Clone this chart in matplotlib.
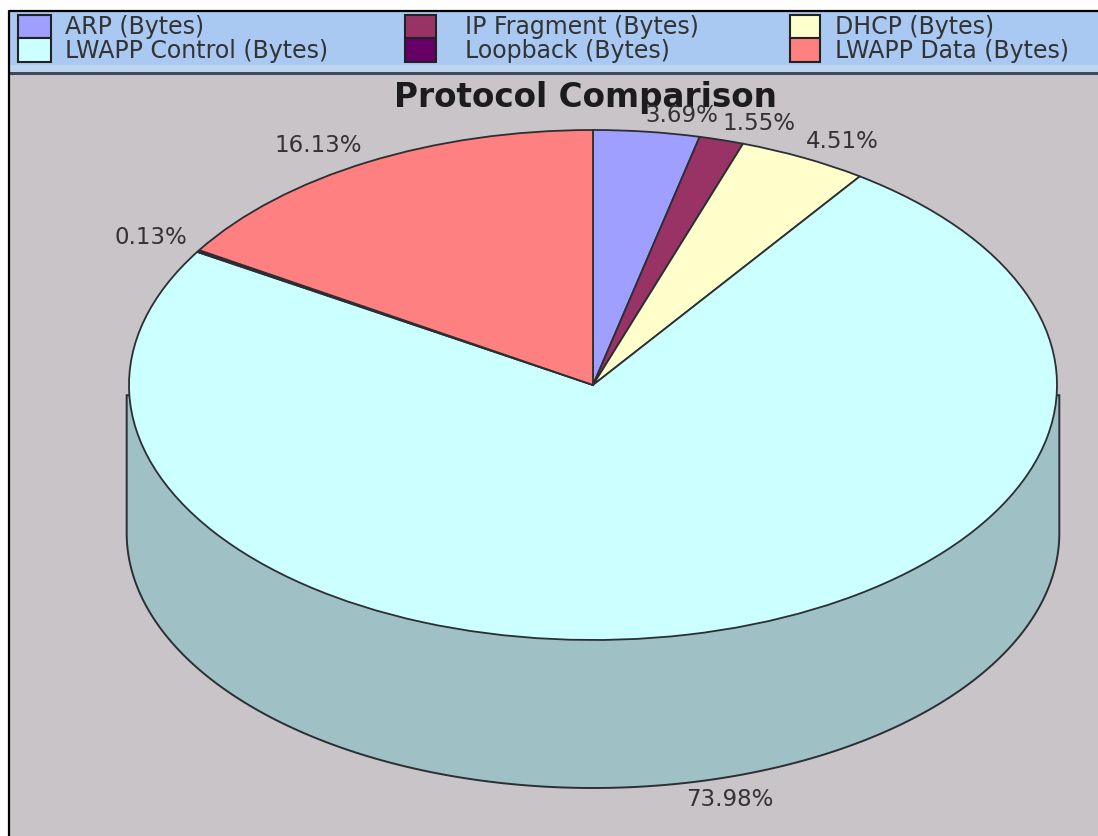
import numpy as np
import matplotlib
matplotlib.use("Agg")
import matplotlib.pyplot as plt
from matplotlib.patches import Rectangle

# --- data ---
protocols = ["ARP (Bytes)", "IP Fragment (Bytes)", "DHCP (Bytes)",
             "LWAPP Control (Bytes)", "Loopback (Bytes)", "LWAPP Data (Bytes)"]
percents = [3.69, 1.55, 4.51, 73.98, 0.13, 16.13]
colors = ["#9f9fff", "#993366", "#ffffcc", "#ccffff", "#660066", "#ff8080"]
title = "Protocol Comparison"

# pixel layout of the picture
W, H = 1098, 836
cx, cy, rx, ry = 593, 385, 464, 255
depth = 148
label_pos = [(682, 115), (759, 123), (842, 141), (730, 799), (151, 238), (318, 145)]
legend_rows = [(15, 38), (38, 62)]
legend_text_y = [27, 51]
legend_cols = [(18, 51, 65), (405, 436, 465), (790, 820, 835)]
legend_order = [(0, 0), (1, 0), (2, 0), (0, 1), (1, 1), (2, 1)]
edge = "#2b2f33"
ink = "#333333"

plt.rcParams["font.family"] = ["DejaVu Sans"]

fig = plt.figure(figsize=(W / 100, H / 100), dpi=100, facecolor="white")

# background, legend band and frame, in pixel coordinates
ax_bg = fig.add_axes([0, 0, 1, 1])
ax_bg.set_xlim(0, W)
ax_bg.set_ylim(H, 0)
ax_bg.axis("off")
ax_bg.add_patch(Rectangle((9, 11), W, H, fc="#c8c4c8", ec="none"))
ax_bg.add_patch(Rectangle((9, 11), W, 61, fc="#a9c9f2", ec="none"))
ax_bg.add_patch(Rectangle((9, 65), W, 7, fc="#bcd4ee", ec="none"))
ax_bg.add_patch(Rectangle((9, 72), W, 3, fc="#3f4a58", ec="none"))
ax_bg.plot([8.5, 8.5, W], [H, 10.5, 10.5], color="black", lw=1.6)

# legend swatches and names
for name, col, (c, r) in zip(protocols, colors, legend_order):
    x0, x1, xt = legend_cols[c]
    y0, y1 = legend_rows[r]
    ax_bg.add_patch(Rectangle((x0, y0), x1 - x0, y1 - y0, fc=col, ec="#222222", lw=1.5))
    ax_bg.text(xt, legend_text_y[r], name, fontsize=17, va="center", ha="left", color=ink)

# pie axes sits exactly on the top ellipse
ax = fig.add_axes([(cx - rx) / W, 1 - (cy + ry) / H, 2 * rx / W, 2 * ry / H])
ax.patch.set_alpha(0)

# side wall of the disc
d = depth / ry
t = np.linspace(np.pi, 2 * np.pi, 300)
wall_x = np.r_[-1.005, 1.005 * np.cos(t), 1.005]
wall_y = np.r_[-0.04, np.sin(t) - d, -0.04]
ax.fill(wall_x, wall_y, fc="#9fc0c4", ec=edge, lw=1.4, clip_on=False, zorder=1)

wedges, _ = ax.pie(percents, colors=colors, startangle=90, counterclock=False, radius=1,
                   wedgeprops={"edgecolor": edge, "linewidth": 1.3, "clip_on": False, "zorder": 2})
ax.set_aspect("auto")
ax.set_xlim(-1, 1)
ax.set_ylim(-1, 1)

# title and percent labels
fig.text(585 / W, 1 - 97 / H, title, fontsize=23.5, fontweight="bold", ha="center", va="center", color="#1c1c1c")
for p, (x, y) in zip(percents, label_pos):
    fig.text(x / W, 1 - y / H, f"{p:.2f}%", fontsize=16.5, ha="center", va="center", color=ink)

fig.savefig("out.png", dpi=100)
